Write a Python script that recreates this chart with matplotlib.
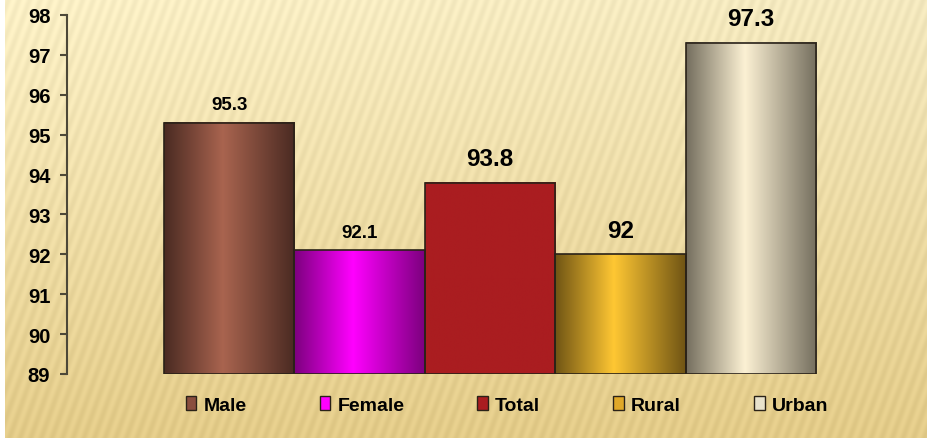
import numpy as np
import matplotlib
matplotlib.use('Agg')
import matplotlib.pyplot as plt
from matplotlib.colors import LinearSegmentedColormap, to_rgb
from matplotlib.patches import Patch

# data
categories = ['Male', 'Female', 'Total', 'Rural', 'Urban']
values = [95.3, 92.1, 93.8, 92.0, 97.3]
value_labels = ['95.3', '92.1', '93.8', '92', '97.3']
yticks = [89, 90, 91, 92, 93, 94, 95, 96, 97, 98]

# styles: edge / centre colour of the shaded bars, label sizes
edge_colors = ['#4a2a22', '#7c007e', '#aa1d20', '#6f5414', '#746e5e']
center_colors = ['#a9644f', '#ff00ff', '#aa1d20', '#ffc733', '#fcf1d4']
legend_colors = ['#8a4e3e', '#ff00ff', '#aa1d20', '#e0a828', '#e8e2cc']
label_sizes = [13.5, 13.5, 17.5, 17.5, 17.5]

plt.rcParams['font.family'] = ['Liberation Sans', 'DejaVu Sans']
plt.rcParams['font.weight'] = 'bold'

W, H = 928, 439
fig = plt.figure(figsize=(W / 100, H / 100), dpi=100)

# background: beige gradient with faint diagonal stripes
bg = fig.add_axes([0, 0, 1, 1], zorder=-10)
yy, xx = np.mgrid[0:H, 0:W]
top = np.array(to_rgb('#fbf0c6'))
bot = np.array(to_rgb('#e3cb88'))
t = (yy / H)[..., None]
img = top * (1 - t) + bot * t
img = img - 0.03 * (xx / W)[..., None] * (1 - t)
stripe = np.sin(2 * np.pi * (xx * 0.94 + yy * 0.34) / 10.0)
img = img + 0.022 * stripe[..., None]
img[:, :5, :] = 1.0
img = np.clip(img, 0, 1)
bg.imshow(img, aspect='auto', extent=[0, W, H, 0])
bg.set_axis_off()

# main axes placed to match the reference pixels
left, right, top_px, bottom_px = 67, 913, 16, 375
ax = fig.add_axes([left / W, 1 - bottom_px / H, (right - left) / W, (bottom_px - top_px) / H])
ax.patch.set_alpha(0)

x = np.arange(len(categories))
bars = ax.bar(x, [v - 89 for v in values], bottom=89, width=1.0,
              facecolor='none', edgecolor='#2a2218', linewidth=1.2, zorder=3)

grad = np.linspace(0, 1, 256)[None, :]
for b, ec, cc in zip(bars, edge_colors, center_colors):
    cmap = LinearSegmentedColormap.from_list('g', [(0, ec), (0.45, cc), (1, ec)])
    x0, y0 = b.get_x(), b.get_y()
    ax.imshow(grad, cmap=cmap, aspect='auto', zorder=2,
              extent=[x0, x0 + b.get_width(), y0, y0 + b.get_height()])

for b, lab, fs in zip(bars, value_labels, label_sizes):
    ax.annotate(lab, (b.get_x() + b.get_width() / 2, b.get_y() + b.get_height()),
                xytext=(0, 7 if fs < 15 else 9), textcoords='offset points',
                ha='center', va='bottom', fontsize=fs, fontweight='bold')

ax.set_xlim(-1.244, 5.244)
ax.set_ylim(89, 98)
ax.set_yticks(yticks)
ax.set_xticks([])
for s in ['top', 'right', 'bottom']:
    ax.spines[s].set_visible(False)
ax.spines['left'].set_color('#4d4838')
ax.spines['left'].set_linewidth(1.5)
ax.tick_params(axis='y', direction='out', length=5, width=1.5, color='#4d4838',
               pad=7, labelsize=14.5)
for lbl in ax.get_yticklabels():
    lbl.set_fontweight('bold')

handles = [Patch(facecolor=c, edgecolor='#2a2218', linewidth=1.0) for c in legend_colors]
fig.legend(handles, categories, loc='center', ncol=5,
           bbox_to_anchor=(507 / W, 1 - 406 / H), frameon=False,
           prop={'weight': 'bold', 'size': 14},
           handlelength=0.55, handleheight=0.7, handletextpad=0.36,
           columnspacing=3.76)

fig.savefig('out.png', dpi=100)
